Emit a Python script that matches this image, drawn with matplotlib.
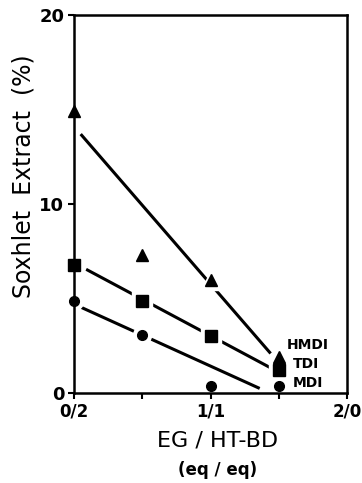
import matplotlib
matplotlib.use("Agg")
import matplotlib.pyplot as plt

# measured points (EG/HT-BD ratio mapped 0..2)
x_pts = [0.0, 0.5, 1.0, 1.5]
hmdi = [14.9, 7.3, 6.0, 1.9]
tdi = [6.8, 4.9, 3.0, 1.2]
mdi = [4.9, 3.1, 0.4, 0.4]

# drawn trend lines: (x start, x end), (y start, y end)
hmdi_line = ([0.05, 1.44], [13.7, 2.1])
tdi_line = ([0.09, 1.45], [6.55, 1.3])
mdi_line = ([0.05, 1.36], [4.55, 0.25])

xticks = [0, 1, 2]
xticklabels = ["0/2", "1/1", "2/0"]
yticks = [0, 10, 20]

fig = plt.figure(figsize=(3.62, 4.83), dpi=100)
ax = fig.add_axes([0.204, 0.186, 0.755, 0.783])

series = [
    (hmdi, hmdi_line, "^", 9, "HMDI"),
    (tdi, tdi_line, "s", 8, "TDI"),
    (mdi, mdi_line, "o", 7, "MDI"),
]
for vals, (lx, ly), mk, ms, name in series:
    ax.plot(lx, ly, color="black", linewidth=2.2, solid_capstyle="butt", zorder=1)
    # white halo makes the line break around each marker (kept under the spines)
    ax.plot(x_pts, vals, linestyle="none", marker=mk, markersize=ms + 6,
            color="white", zorder=1.5)
    ax.plot(x_pts, vals, linestyle="none", marker=mk, markersize=ms,
            color="black", zorder=4, clip_on=False)

ax.text(1.56, 2.55, "HMDI", fontsize=10, fontweight="bold", va="center", ha="left")
ax.text(1.6, 1.55, "TDI", fontsize=10, fontweight="bold", va="center", ha="left")
ax.text(1.6, 0.55, "MDI", fontsize=10, fontweight="bold", va="center", ha="left")

ax.set_xlim(0, 2)
ax.set_ylim(0, 20)
ax.set_xticks(xticks)
ax.set_xticklabels(xticklabels, fontsize=12, fontweight="bold")
ax.set_yticks(yticks)
ax.set_yticklabels([str(v) for v in yticks], fontsize=13, fontweight="bold")
ax.tick_params(axis="both", direction="out", length=4, width=1.5, pad=3)
ax.set_xticks([0.5, 1.5], minor=True)
ax.tick_params(axis="x", which="minor", direction="out", length=4, width=1.5)
for sp in ax.spines.values():
    sp.set_linewidth(1.8)
    sp.set_zorder(2.5)

fig.text(0.6, 0.089, "EG / HT-BD", fontsize=16, ha="center", va="center")
fig.text(0.6, 0.027, "(eq / eq)", fontsize=12, ha="center", va="center", fontweight="bold")
fig.text(0.065, 0.635, "Soxhlet  Extract  (%)", fontsize=17, rotation=90,
         ha="center", va="center")

fig.savefig("out.png", dpi=100)
